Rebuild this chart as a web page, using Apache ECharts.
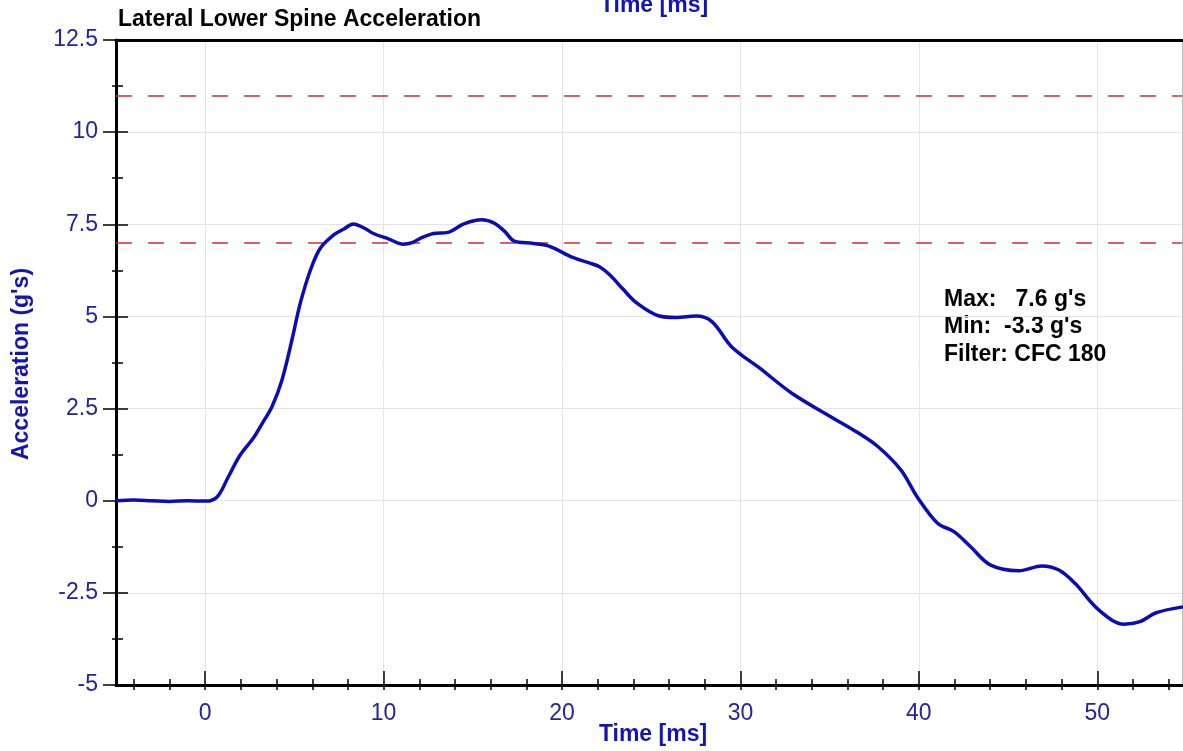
<!DOCTYPE html>
<html>
<head>
<meta charset="utf-8">
<script src="https://cdn.jsdelivr.net/npm/echarts@6/dist/echarts.min.js"></script>
<style>
  html, body { margin: 0; padding: 0; background: #fff; }
  #chart { width: 1183px; height: 751px; }
</style>
</head>
<body>
<div id="chart"></div>
<script>
// time [ms] and lateral acceleration [g]
const time = [-5, -4, -3, -2, -1, 0, 0.3, 0.75, 1.3, 1.96, 2.7, 3.2, 3.74, 4.3, 4.86, 5.33, 5.9, 6.45, 7.2, 7.8, 8.3, 8.9, 9.43, 10.3, 11.1, 11.6, 12.05, 12.8, 13.6, 14.5, 15.5, 16.2, 16.8, 17.3, 18.4, 19.3, 20.6, 21.6, 22.1, 22.7, 23.4, 24.2, 25.45, 26.4, 27.5, 28.4, 29.5, 31.1, 32.9, 35.2, 36.5, 37.7, 39.0, 39.9, 41.05, 41.97, 42.9, 44.0, 45.6, 46.9, 47.85, 48.75, 50.1, 51.5, 52.4, 53.3, 54.8]
const accel = [0, 0.02, 0, -0.02, 0, -0.01, 0, 0.15, 0.65, 1.24, 1.7, 2.1, 2.55, 3.27, 4.36, 5.36, 6.26, 6.85, 7.21, 7.38, 7.51, 7.4, 7.25, 7.1, 6.96, 7.0, 7.12, 7.25, 7.28, 7.51, 7.62, 7.53, 7.3, 7.05, 6.98, 6.9, 6.6, 6.44, 6.35, 6.12, 5.75, 5.36, 5.01, 4.97, 5.01, 4.86, 4.18, 3.59, 2.91, 2.24, 1.87, 1.47, 0.83, 0.11, -0.61, -0.84, -1.25, -1.74, -1.9, -1.77, -1.88, -2.24, -2.97, -3.35, -3.28, -3.04, -2.88]

const limits = [11, 7]
const xMajor = [0, 10, 20, 30, 40, 50]
const xMinor = [-4, -2, 2, 4, 6, 8, 12, 14, 16, 18, 22, 24, 26, 28, 32, 34, 36, 38, 42, 44, 46, 48, 52, 54]
const statLines = ["Max:   7.6 g's", "Min:  -3.3 g's", 'Filter: CFC 180']

const X_MIN = -5
const X_MAX = 54.75
const FONT = '"Liberation Sans", Arial, sans-serif'
const BLUE = '#23239c'
const NAME_BLUE = '#1515b0'

const chart = echarts.init(document.getElementById('chart'), null, { renderer: 'canvas' })

function overlayX (extra) {
  return Object.assign({
    type: 'value',
    position: 'bottom',
    min: X_MIN,
    max: X_MAX,
    axisLabel: { show: false },
    splitLine: { show: false },
    axisLine: { show: false, onZero: false }
  }, extra)
}

const option = {
  animation: false,
  backgroundColor: '#fff',
  grid: { left: 116, right: 1, top: 40, bottom: 66 },
  xAxis: [
    {
      type: 'value',
      position: 'bottom',
      min: X_MIN,
      max: X_MAX,
      axisLine: { onZero: false, lineStyle: { color: '#000', width: 3 } },
      axisTick: { customValues: xMajor, inside: true, length: 14, lineStyle: { color: '#000', width: 1.5 } },
      axisLabel: { customValues: xMajor, color: BLUE, fontSize: 23, fontFamily: FONT, margin: 17 },
      splitLine: { show: false }
    },
    // vertical grid lines
    overlayX({ axisTick: { customValues: xMajor, inside: true, length: 645, lineStyle: { color: '#e4e4e4', width: 1 } }, z: -1 }),
    // minor ticks crossing the axis
    overlayX({ axisTick: { customValues: xMinor, inside: true, length: 6, lineStyle: { color: '#000', width: 1.5 } } }),
    overlayX({ axisTick: { customValues: xMinor.concat(xMajor), inside: false, length: 5, lineStyle: { color: '#000', width: 1.5 } } }),
    // top frame line
    overlayX({ position: 'top', axisLine: { show: true, onZero: false, lineStyle: { color: '#000', width: 3 } }, axisTick: { show: false } })
  ],
  yAxis: [
    {
      type: 'value',
      position: 'left',
      min: -5,
      max: 12.5,
      interval: 2.5,
      axisLine: { show: true, onZero: false, lineStyle: { color: '#000', width: 3 } },
      axisTick: { show: true, inside: false, length: 13, lineStyle: { color: '#000', width: 1.5 } },
      minorTick: { show: true, splitNumber: 2, length: 4, lineStyle: { color: '#000', width: 1.5 } },
      axisLabel: { color: BLUE, fontSize: 23, fontFamily: FONT, margin: 18 },
      splitLine: { show: true, lineStyle: { color: '#e4e4e4', width: 1 } }
    },
    {
      type: 'value',
      position: 'left',
      min: -5,
      max: 12.5,
      interval: 2.5,
      axisLine: { show: false, onZero: false },
      axisTick: { show: true, inside: true, length: 12, lineStyle: { color: '#000', width: 1.5 } },
      minorTick: { show: true, splitNumber: 2, length: 7, lineStyle: { color: '#000', width: 1.5 } },
      axisLabel: { show: false },
      splitLine: { show: false }
    },
    // right frame line
    {
      type: 'value',
      position: 'right',
      min: -5,
      max: 12.5,
      interval: 2.5,
      axisLine: { show: true, onZero: false, lineStyle: { color: '#bbb', width: 1 } },
      axisTick: { show: false },
      axisLabel: { show: false },
      splitLine: { show: false }
    }
  ],
  series: [
    {
      type: 'line',
      data: time.map((t, i) => [t, accel[i]]),
      smooth: 0.35,
      showSymbol: false,
      clip: true,
      lineStyle: { color: '#0c0cb4', width: 3.5 },
      z: 5,
      markLine: {
        silent: true,
        symbol: 'none',
        label: { show: false },
        lineStyle: { color: '#c83232', width: 1.5, type: [16, 16] },
        data: limits.map(v => ({ yAxis: v }))
      }
    }
  ],
  graphic: [
    {
      type: 'text',
      left: 118,
      top: 8,
      style: { text: 'Lateral Lower Spine Acceleration', fontSize: 23, fontWeight: 'bold', fontFamily: FONT, fill: '#000' }
    },
    {
      type: 'text',
      x: 654,
      y: 6,
      style: { text: 'Time [ms]', fontSize: 23, fontWeight: 'bold', fontFamily: FONT, fill: NAME_BLUE, align: 'center', verticalAlign: 'middle' }
    },
    {
      type: 'text',
      x: 653,
      y: 735,
      style: { text: 'Time [ms]', fontSize: 23, fontWeight: 'bold', fontFamily: FONT, fill: NAME_BLUE, align: 'center', verticalAlign: 'middle' }
    },
    {
      type: 'text',
      x: 22,
      y: 364,
      rotation: Math.PI / 2,
      style: { text: "Acceleration (g's)", fontSize: 23, fontWeight: 'bold', fontFamily: FONT, fill: NAME_BLUE, align: 'center', verticalAlign: 'middle' }
    }
  ].concat(statLines.map((s, i) => ({
    type: 'text',
    x: 944,
    y: 299.5 + i * 27.5,
    style: { text: s, fontSize: 23, fontWeight: 'bold', fontFamily: FONT, fill: '#000', verticalAlign: 'middle' }
  })))
}

chart.setOption(option)
</script>
</body>
</html>
